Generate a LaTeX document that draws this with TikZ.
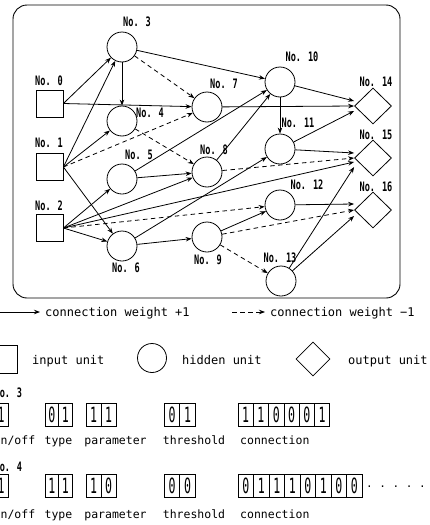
\documentclass[tikz,border=0pt]{standalone}
\usepackage{fontspec}
\setmainfont{DejaVu Sans Mono}
\newfontfamily\lblfont[FakeStretch=0.66]{DejaVu Sans Mono Bold}
\newfontfamily\digfont[FakeStretch=0.55]{DejaVu Sans Mono}
\usetikzlibrary{shapes.geometric,arrows.meta}

\begin{document}
\begin{tikzpicture}[x=1pt,y=-1pt,
  every node/.style={inner sep=0pt},
  inunit/.style={draw, line width=0.8pt, rectangle, minimum size=27pt},
  hidunit/.style={draw, line width=0.8pt, circle, minimum size=30pt},
  outunit/.style={draw, line width=0.8pt, diamond, minimum width=37pt, minimum height=36pt},
  lbl/.style={font=\lblfont\fontsize{13}{13}\selectfont},
  txt/.style={font=\fontsize{12}{12}\selectfont, anchor=base west},
  fieldtext/.style={font=\fontsize{11.5}{11.5}\selectfont, anchor=base},
  wplus/.style={line width=0.8pt, -{Stealth[length=6pt,width=4.5pt]}},
  wminus/.style={wplus, dash pattern=on 4.5pt off 3.5pt},
  bitcell/.style={draw, line width=0.8pt, minimum height=23pt, font=\digfont\fontsize{21}{21}\selectfont},
]
\clip (0,0) rectangle (430,525);
\useasboundingbox (0,0) rectangle (430,525);

% network frame
\draw[line width=0.9pt, rounded corners=14pt] (13,5) rectangle (400,298);

% input units
\node[inunit] (n0) at (49.5,103.5) {};
\node[inunit] (n1) at (49.5,167) {};
\node[inunit] (n2) at (49.5,228) {};
% hidden units
\node[hidunit] (n3) at (122,47) {};
\node[hidunit] (n4) at (122,121) {};
\node[hidunit] (n5) at (122,179) {};
\node[hidunit] (n6) at (122,246) {};
\node[hidunit] (n7) at (207,107) {};
\node[hidunit] (n8) at (207,172) {};
\node[hidunit] (n9) at (207,237) {};
\node[hidunit] (n10) at (280,82) {};
\node[hidunit] (n11) at (280,149) {};
\node[hidunit] (n12) at (280,205) {};
\node[hidunit] (n13) at (281,281) {};
% output units
\node[outunit] (n14) at (373,106) {};
\node[outunit] (n15) at (373,158) {};
\node[outunit] (n16) at (373,210) {};

% unit numbers
\node[lbl] (l0) at (49,81) {No. 0};
\node[lbl] (l1) at (49,143) {No. 1};
\node[lbl] (l2) at (49,206) {No. 2};
\node[lbl] (l3) at (137,22) {No. 3};
\node[lbl] (l4) at (150,113) {No. 4};
\node[lbl] (l5) at (139,155) {No. 5};
\node[lbl] (l6) at (126,268) {No. 6};
\node[lbl] (l7) at (224,84) {No. 7};
\node[lbl] (l8) at (214,150) {No. 8};
\node[lbl] (l9) at (208,260) {No. 9};
\node[lbl] (l10) at (302,57) {No. 10};
\node[lbl] (l11) at (298,123) {No. 11};
\node[lbl] (l12) at (307,185) {No. 12};
\node[lbl] (l13) at (280,258) {No. 13};
\node[lbl] (l14) at (376,82) {No. 14};
\node[lbl] (l15) at (376,135) {No. 15};
\node[lbl] (l16) at (376,187) {No. 16};

% excitatory connections
\draw[wplus] (n0.east) -- (n3);
\draw[wplus] (n0.east) -- (n7);
\draw[wplus] (n1.east) -- (n3);
\draw[wplus] (n1.east) -- (n4);
\draw[wplus] (n1.east) -- (n6);
\draw[wplus] (n2.east) -- (n5);
\draw[wplus] (n2.east) -- (n6);
\draw[wplus] (n2.east) -- (n8);
\draw[wplus] (n2.east) -- ([yshift=-4pt]n15.west);
\draw[wplus] (n3) -- (n4);
\draw[wplus] (n3) -- (n10);
\draw[wplus] (n5) -- (n8);
\draw[wplus] (n5) -- (n10);
\draw[wplus] (n6) -- (n9);
\draw[wplus] (n6) -- (n11);
\draw[wplus] (n7) -- (n14.west);
\draw[wplus] (n8) -- (n10);
\draw[wplus] (n9) -- (n12);
\draw[wplus] (n10) -- (n11);
\draw[wplus] (n10) -- ([yshift=5pt]n14.west);
\draw[wplus] (n11) -- ([yshift=-5pt]n14.west);
\draw[wplus] (n11) -- ([yshift=5pt]n15.west);
\draw[wplus] (n12) -- ([yshift=6pt]n16.west);
\draw[wplus] (n13) -- ([yshift=-9pt]n15.west);
\draw[wplus] (n13) -- ([yshift=-6pt]n16.west);

% inhibitory connections
\draw[wminus] (n1.east) -- (n7);
\draw[wminus] (n2.east) -- (n12);
\draw[wminus] (n3) -- (n7);
\draw[wminus] (n4) -- (n8);
\draw[wminus] (n8) -- (n15.west);
\draw[wminus] (n9) -- (n13);
\draw[wminus] (n9) -- (n16.west);

% legend: connection weights
\coordinate (pa) at (-5,312);
\coordinate (pb) at (40,312);
\draw[wplus] (pa) -- (pb);
\node[txt] (tp) at (45,316) {connection weight +1};
\coordinate (na) at (232,312);
\coordinate (nb) at (265,312);
\draw[wminus] (na) -- (nb);
\node[txt] (tn) at (270,316) {connection weight −1};

% legend: unit kinds
\node[inunit, minimum size=28pt] (kin) at (3,359) {};
\node[txt] (tin) at (32,364) {input unit};
\node[hidunit, minimum size=29pt] (khid) at (152,358) {};
\node[txt] (thid) at (182,364) {hidden unit};
\node[outunit, minimum width=34pt, minimum height=34pt] (kout) at (313,359) {};
\node[txt] (tout) at (348,364) {output unit};

% gene of unit No. 3
\node[lbl, anchor=west] (g3) at (-5.6,393) {No. 3};
\node[bitcell, minimum width=14pt] (a0) at (1,415) {1};
\node[bitcell, minimum width=13.5pt] (at1) at (51.75,415) {0};
\node[bitcell, minimum width=13.5pt] (at2) at (65.25,415) {1};
\node[bitcell, minimum width=15pt] (ap1) at (93.5,415) {1};
\node[bitcell, minimum width=15pt] (ap2) at (108.5,415) {1};
\node[bitcell, minimum width=15.5pt] (ah1) at (172,415) {0};
\node[bitcell, minimum width=15.5pt] (ah2) at (187.5,415) {1};
\foreach \d [count=\i] in {1,1,0,0,0,1}
  \node[bitcell, minimum width=15.3pt] (ac\i) at ({238+15.3*(\i-0.5)},415) {\d};
\node[fieldtext, anchor=base west] (ao) at (-6.5,444) {on/off};
\node[fieldtext] (aty) at (58.5,444) {type};
\node[fieldtext] (apa) at (115.5,444) {parameter};
\node[fieldtext] (ath) at (194,444) {threshold};
\node[fieldtext, anchor=base west] (aco) at (240,444) {connection};

% gene of unit No. 4
\node[lbl, anchor=west] (g4) at (-5.6,467) {No. 4};
\node[bitcell, minimum width=14pt] (b0) at (1,486) {1};
\node[bitcell, minimum width=13.5pt] (bt1) at (51.75,486) {1};
\node[bitcell, minimum width=13.5pt] (bt2) at (65.25,486) {1};
\node[bitcell, minimum width=15pt] (bp1) at (93.5,486) {1};
\node[bitcell, minimum width=15pt] (bp2) at (108.5,486) {0};
\node[bitcell, minimum width=15.5pt] (bh1) at (172,486) {0};
\node[bitcell, minimum width=15.5pt] (bh2) at (187.5,486) {0};
\foreach \d [count=\i] in {0,1,1,1,0,1,0,0}
  \node[bitcell, minimum width=15.5pt] (bc\i) at ({238+15.5*(\i-0.5)},486) {\d};
\node[font=\fontsize{11}{11}\selectfont] (bdots) at (396,488) {· · · · ·};
\node[fieldtext, anchor=base west] (bo) at (-6.5,518) {on/off};
\node[fieldtext] (bty) at (58.5,518) {type};
\node[fieldtext] (bpa) at (115.5,518) {parameter};
\node[fieldtext] (bth) at (194,518) {threshold};
\node[fieldtext, anchor=base west] (bco) at (240,518) {connection};
\end{tikzpicture}
\end{document}
